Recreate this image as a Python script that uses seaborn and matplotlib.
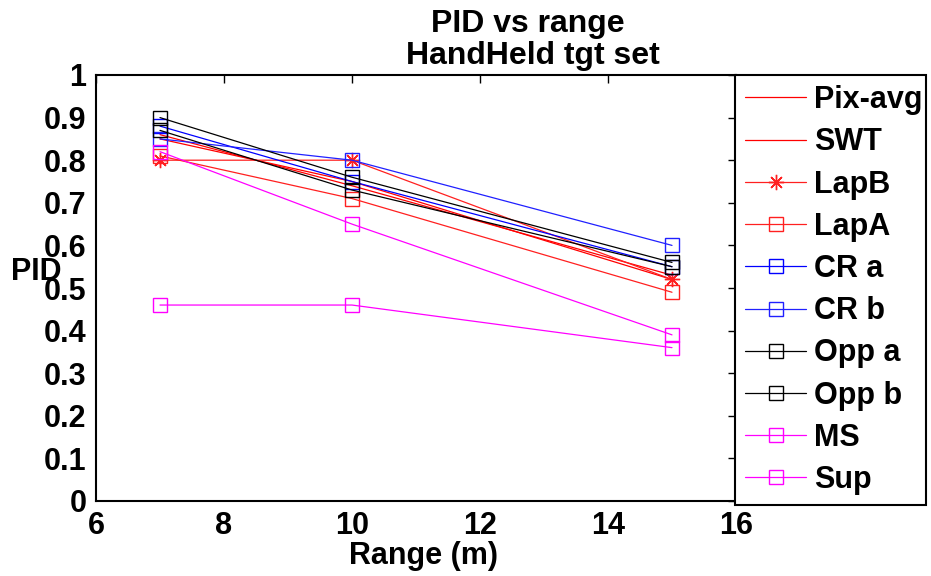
import matplotlib
matplotlib.use("Agg")
import matplotlib.pyplot as plt
import seaborn as sns

ranges = [7, 10, 15]
series_names = ["Pix-avg", "SWT", "LapB", "LapA", "CR a", "CR b", "Opp a", "Opp b", "MS", "Sup"]
pix_avg = [0.86, 0.74, 0.53]
swt = [0.85, 0.75, 0.52]
lapb = [0.80, 0.80, 0.52]
lapa = [0.81, 0.71, 0.49]
cr_a = [0.88, 0.75, 0.55]
cr_b = [0.85, 0.80, 0.60]
opp_a = [0.90, 0.76, 0.56]
opp_b = [0.87, 0.73, 0.55]
ms = [0.82, 0.65, 0.39]
sup = [0.46, 0.46, 0.36]
xticks = [6, 8, 10, 12, 14, 16]
yticks = [0, 0.1, 0.2, 0.3, 0.4, 0.5, 0.6, 0.7, 0.8, 0.9, 1]
ytick_labels = ["0", "0.1", "0.2", "0.3", "0.4", "0.5", "0.6", "0.7", "0.8", "0.9", "1"]

values = [pix_avg, swt, lapb, lapa, cr_a, cr_b, opp_a, opp_b, ms, sup]
colors = ["#ff0000", "#ff0000", "#ff2020", "#ff2020", "#0000ff", "#2020ff",
          "#000000", "#000000", "#ff00ff", "#ff00ff"]
markers = [None, None, (8, 2, 0), "s", "s", "s", "s", "s", "s", "s"]

sns.set_theme(style="white")
plt.rcParams["font.family"] = ["Liberation Sans", "DejaVu Sans"]
plt.rcParams["font.weight"] = "bold"
plt.rcParams["text.color"] = "black"
plt.rcParams["axes.labelcolor"] = "black"
plt.rcParams["xtick.color"] = "black"
plt.rcParams["ytick.color"] = "black"

fig = plt.figure(figsize=(9.31, 5.76), dpi=100)
ax = fig.add_axes([96 / 931, 1 - 501 / 576, 640 / 931, 426 / 576])

for name, vals, c, m in zip(series_names, values, colors, markers):
    kw = dict(x=ranges, y=vals, color=c, linewidth=0.9, label=name, ax=ax, sort=False)
    if m is not None:
        kw.update(marker=m, markersize=10 if m == "s" else 11,
                  markerfacecolor="none", markeredgecolor=c, markeredgewidth=1.0)
    sns.lineplot(**kw)

ax.set_xlim(6, 16)
ax.set_ylim(0, 1)
ax.set_xticks(xticks)
ax.set_xticklabels([str(t) for t in xticks])
ax.set_yticks(yticks)
ax.set_yticklabels(ytick_labels)
ax.tick_params(axis="both", direction="in", length=6, width=1, top=True, right=True,
               labelsize=22, pad=7, colors="black", labelcolor="black")
for lbl in ax.get_xticklabels() + ax.get_yticklabels():
    lbl.set_fontweight("bold")
for s in ax.spines.values():
    s.set_color("black")
    s.set_linewidth(1.5)

ax.set_xlabel("Range (m)", fontsize=22, fontweight="bold", color="black")
ax.xaxis.set_label_coords(0.511, -0.13)
ax.xaxis.label.set_va("center")
ax.set_ylabel("PID", fontsize=22, fontweight="bold", rotation=0, va="center", ha="center",
              color="black")
ax.yaxis.set_label_coords(-0.094, 0.5376)

fig.text(528 / 931, 1 - 24 / 576, "PID vs range", ha="center", va="center",
         fontsize=23, fontweight="bold", color="black")
fig.text(533 / 931, 1 - 56 / 576, "HandHeld tgt set", ha="center", va="center",
         fontsize=23, fontweight="bold", color="black")

leg = ax.legend(loc="upper left", bbox_to_anchor=(735 / 931, 1 - 500 / 576, 191 / 931, 425 / 576),
                bbox_transform=fig.transFigure, mode="expand", fontsize=22, frameon=True,
                fancybox=False, framealpha=1, edgecolor="black", handlelength=2.0,
                handletextpad=0.25, labelspacing=0.40, borderpad=0.33, borderaxespad=0)
leg.get_frame().set_linewidth(1.5)
for t in leg.get_texts():
    t.set_fontweight("bold")
    t.set_color("black")

fig.savefig("out.png", dpi=100, facecolor="white")
